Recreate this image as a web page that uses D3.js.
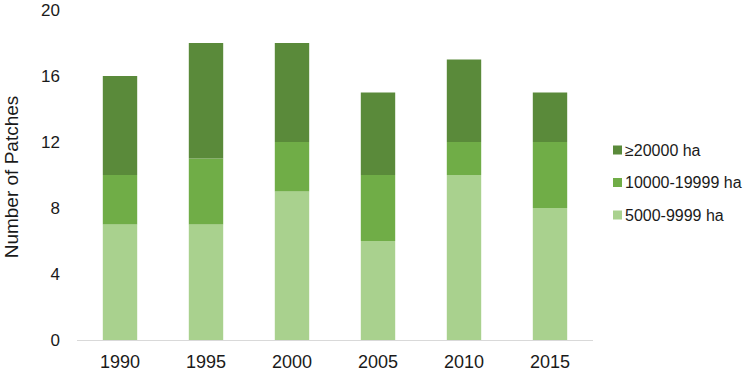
<!DOCTYPE html>
<html><head><meta charset="utf-8">
<script src="https://cdn.jsdelivr.net/npm/d3@7"></script>
<style>body{margin:0;background:#fff;}svg{display:block;font-family:"Liberation Sans",Arial,sans-serif;}</style>
</head><body>
<svg id="c" width="750" height="371"></svg>
<script>
const years = ["1990","1995","2000","2005","2010","2015"];
const small = [7,7,9,6,10,8];      // 5000-9999 ha
const medium = [3,4,3,4,2,4];      // 10000-19999 ha
const large = [6,7,6,5,5,3];       // ≥20000 ha
const seriesNames = ["5000-9999 ha","10000-19999 ha","≥20000 ha"];
const colors = ["#A9D18E","#70AD47","#5A8A3A"];
const yTicks = [0,4,8,12,16,20];

const svg = d3.select("#c");
const x = d3.scaleBand().domain(years).range([77,593]).paddingInner(0.6).paddingOuter(0.3);
const y = d3.scaleLinear().domain([0,20]).range([340,10]);

const table = years.map((yr,i)=>({year:yr, s0:small[i], s1:medium[i], s2:large[i]}));
const stack = d3.stack().keys(["s0","s1","s2"])(table);

svg.append("g").selectAll("g").data(stack).join("g")
  .attr("fill",(d,i)=>colors[i])
  .selectAll("rect").data(d=>d).join("rect")
  .attr("x",d=>x(d.data.year))
  .attr("width",x.bandwidth())
  .attr("y",d=>y(d[1]))
  .attr("height",d=>y(d[0])-y(d[1]));

// x axis line
svg.append("line").attr("x1",77).attr("x2",593).attr("y1",y(0)+0.5).attr("y2",y(0)+0.5)
  .attr("stroke","#d9d9d9").attr("stroke-width",1);

// x labels
const xAxis = d3.axisBottom(x).tickSize(0).tickPadding(15);
const gx = svg.append("g").attr("transform",`translate(0,${y(0)})`).call(xAxis);
gx.select(".domain").remove();
gx.selectAll("text").attr("font-size",18).attr("fill","#1a1a1a").attr("font-family","Liberation Sans, Arial, sans-serif");

// y labels
const yAxis = d3.axisLeft(y).tickValues(yTicks).tickSize(0).tickPadding(17);
const gy = svg.append("g").attr("transform","translate(77,0)").call(yAxis);
gy.select(".domain").remove();
gy.selectAll("text").attr("font-size",17).attr("fill","#1a1a1a").attr("font-family","Liberation Sans, Arial, sans-serif");

// y title
svg.append("text").attr("transform",`translate(18,177) rotate(-90)`)
  .attr("text-anchor","middle").attr("font-size",19).attr("fill","#1a1a1a")
  .text("Number of Patches");

// legend
const legendOrder = [2,1,0];
const lg = svg.append("g").selectAll("g").data(legendOrder).join("g")
  .attr("transform",(d,i)=>`translate(613,${150+i*32.5})`);
lg.append("rect").attr("x",0).attr("y",-4.5).attr("width",9).attr("height",9).attr("fill",d=>colors[d]);
lg.append("text").attr("x",12).attr("y",0).attr("dy","0.35em").attr("font-size",16).attr("fill","#1a1a1a")
  .text(d=>seriesNames[d]);
</script>
</body></html>
